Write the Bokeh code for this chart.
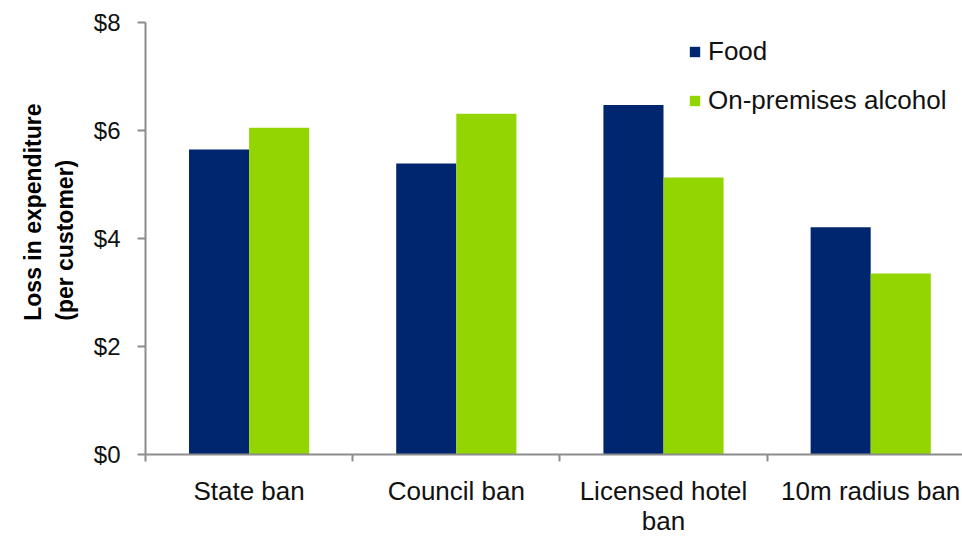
from bokeh.plotting import figure
from bokeh.models import (Range1d, FixedTicker, NumeralTickFormatter, Legend,
                          LegendItem, ColumnDataSource, Title)
from bokeh.transform import dodge
from bokeh.embed import file_html
from bokeh.resources import INLINE

# ---- data ----
categories = ["State ban", "Council ban", "Licensed hotel\nban", "10m radius ban"]
food = [5.65, 5.39, 6.47, 4.21]
alcohol = [6.05, 6.31, 5.13, 3.35]
series_names = ["Food", "On-premises alcohol"]
y_ticks = [0, 2, 4, 6, 8]
y_title = "Loss in expenditure\n(per customer)"

NAVY = "#00266F"
GREEN = "#93D500"
GREY = "#8C8C8C"
FONT = "Liberation Sans"

centers = [i + 0.5 for i in range(len(categories))]
boundaries = [float(i) for i in range(len(categories))]
src = ColumnDataSource(dict(x=centers, food=food, alcohol=alcohol))

p = figure(width=962, height=538, output_backend="svg", toolbar_location=None,
           x_range=Range1d(0, 3.943), y_range=Range1d(0, 8),
           min_border_left=145, min_border_right=0,
           min_border_top=22, min_border_bottom=84)
p.outline_line_color = None
p.xgrid.visible = False
p.ygrid.visible = False

r_food = p.vbar(x=dodge("x", -0.145, range=p.x_range), top="food", width=0.29,
                source=src, fill_color=NAVY, line_color=None)
r_alc = p.vbar(x=dodge("x", 0.145, range=p.x_range), top="alcohol", width=0.29,
               source=src, fill_color=GREEN, line_color=None)

# x axis
xa = p.xaxis[0]
xa.ticker = FixedTicker(ticks=centers, minor_ticks=boundaries)
xa.major_label_overrides = {c: lab for c, lab in zip(centers, categories)}
xa.axis_line_color = GREY
xa.axis_line_width = 2
xa.major_tick_line_color = None
xa.major_tick_out = 0
xa.major_tick_in = 0
xa.minor_tick_line_color = GREY
xa.minor_tick_line_width = 2
xa.minor_tick_out = 7
xa.minor_tick_in = 0
xa.major_label_text_font = FONT
xa.major_label_text_font_size = "26px"
xa.major_label_text_line_height = 1.0
xa.major_label_text_color = "#111111"
xa.major_label_standoff = 14

# y axis
ya = p.yaxis[0]
ya.ticker = FixedTicker(ticks=y_ticks, minor_ticks=[])
ya.formatter = NumeralTickFormatter(format="$0")
ya.axis_line_color = GREY
ya.axis_line_width = 2
ya.major_tick_line_color = GREY
ya.major_tick_line_width = 2
ya.major_tick_out = 8
ya.major_tick_in = 0
ya.minor_tick_line_color = None
ya.major_label_text_font = FONT
ya.major_label_text_font_size = "24px"
ya.major_label_text_color = "#111111"
ya.major_label_standoff = 17

# y-axis title
p.add_layout(Title(text=y_title, align="right", offset=81, standoff=25,
                   text_font=FONT, text_font_size="23px", text_font_style="bold",
                   text_color="#000000", text_line_height=1.25), "left")

legend = Legend(items=[LegendItem(label=series_names[0], renderers=[r_food]),
                       LegendItem(label=series_names[1], renderers=[r_alc])],
                location=(543, 338), label_text_font=FONT,
                label_text_font_size="26px", label_text_color="#111111",
                glyph_width=13, glyph_height=13, label_standoff=7,
                spacing=18, padding=0, margin=0,
                border_line_color=None, background_fill_alpha=0)
p.add_layout(legend)

open("out.html", "w").write(file_html(p, INLINE))
